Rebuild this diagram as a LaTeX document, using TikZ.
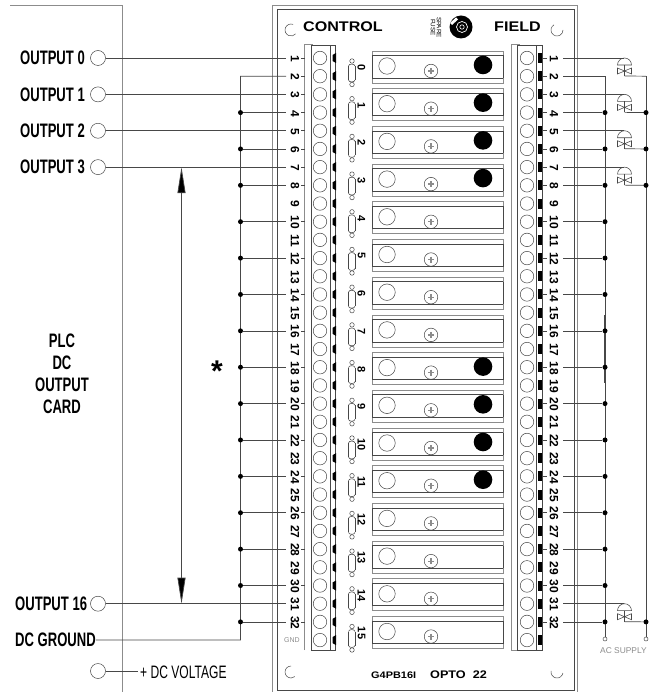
\documentclass[tikz,border=0pt]{standalone}
\usepackage{fontspec}
\usetikzlibrary{arrows.meta}
\setmainfont{Liberation Sans}
\newfontfamily\narrowf[FakeStretch=0.67]{Liberation Sans}
\newfontfamily\widef[FakeStretch=1.15]{Liberation Sans}
\definecolor{wirec}{gray}{0.28}
\definecolor{softc}{gray}{0.55}
\tikzset{
  wire/.style={draw=wirec,line width=.7pt},
  softline/.style={draw=softc,line width=.8pt},
  ring/.style={circle,draw=wirec,line width=.5pt,inner sep=0pt,minimum size=#1},
  busdot/.style={circle,fill=black,inner sep=0pt,minimum size=5pt},
  endring/.style={circle,draw=wirec,line width=.5pt,inner sep=0pt,minimum size=4pt},
  biglabel/.style={font=\narrowf\bfseries\fontsize{19.5}{19.5}\selectfont,anchor=west,inner sep=0pt},
  termnum/.style={font=\bfseries\fontsize{12}{12}\selectfont,rotate=-90,inner sep=0pt},
  relaynum/.style={font=\bfseries\fontsize{11}{11}\selectfont,rotate=-90,inner sep=0pt},
  widelabel/.style={font=\widef\bfseries\fontsize{14}{14}\selectfont,anchor=west,inner sep=0pt},
  lampsym/.pic={
    \coordinate (-top) at (-1,0);
    \coordinate (-bot) at (0,18);
    \draw[wire,line width=.55pt] (-7,7) arc[start angle=180,end angle=0,radius=7pt] -- cycle;
    \draw[wire,line width=.55pt] (0,7) -- (0,18);
    \draw[wire,line width=.55pt] (-7,10) -- (7,16) -- (7,10) -- (-7,16) -- cycle;
  }
}
\begin{document}
\begin{tikzpicture}[x=1pt,y=-1pt]
\useasboundingbox (0,0) rectangle (651,692);
% PLC card
\coordinate (cardA) at (10,5);
\coordinate (cardB) at (122,5);
\coordinate (cardC) at (122,692);
\draw[softline] (cardA) -- (cardB) -- (cardC);
% panel
\draw[softline] (272,692) -- (272,5) -- (577,5) -- (577,692);
\draw[wire] (277,690) -- (277,9) -- (574,9) -- (574,690) -- cycle;
% corner arcs
\draw[wire,line width=.5pt] (291,30) ++(70:6pt) arc[start angle=70,end angle=320,radius=6pt];
\draw[wire,line width=.5pt] (557,30) ++(120:6pt) arc[start angle=120,end angle=360,radius=6pt];
\draw[wire,line width=.5pt] (291,672) ++(90:6pt) arc[start angle=90,end angle=310,radius=6pt];
\draw[wire,line width=.5pt] (557,672) ++(170:6pt) arc[start angle=170,end angle=350,radius=6pt];
% titles
\node[widelabel] (ttlctl) at (303,27) {CONTROL};
\node[widelabel] (ttlfld) at (494,27) {FIELD};
\node[font=\fontsize{6.3}{6}\selectfont,rotate=-90,align=center,inner sep=0pt] (spare) at (436,27.5) {SPARE\\FUSE};
% fuse
\fill (461,27) circle (11.5pt);
\fill[white] (456,17.5) -- (450,23) -- (452,25) -- (458,19.5) -- cycle;
\draw[white,line width=.7pt] (462,27) circle (5.5pt);
\draw[white,line width=.6pt] (462,27) circle (2.2pt);
% terminal blocks
\draw[softline] (304,650) -- (304,44) -- (313,44);
\draw[wire] (311,45) rectangle (330,650);
\draw[wire] (330,45) -- (335,45) -- (335,650) -- (330,650);
\draw[softline] (511,650) -- (511,44) -- (520,44);
\draw[softline] (511,650) -- (517,650);
\draw[wire] (517,45) rectangle (536,650);
\draw[wire] (536,45) -- (542,45) -- (542,650) -- (536,650);
\foreach \n in {1,...,33}{
  \pgfmathsetmacro\ry{58+18.19*(\n-1)}
  \node[ring=13.5pt] (tl\n) at (320,\ry) {};
  \node[ring=13.5pt] (tr\n) at (527,\ry) {};
  \fill (332.5,\ry-3) -- (336,\ry-5) -- (336,\ry+5) -- (332.5,\ry+3) -- cycle;
  \fill (538,\ry-5) rectangle (542,\ry+5);
  \coordinate (L\n) at (286,\ry);
  \coordinate (R\n) at (563,\ry);
  \coordinate (Lt\n) at (301,\ry);
  \coordinate (Lu\n) at (305,\ry);
  \coordinate (Rt\n) at (543,\ry);
  \coordinate (Ru\n) at (547,\ry);
}
\foreach \n in {1,...,32}{
  \pgfmathsetmacro\ry{58+18.19*(\n-1)+0.8}
  \node[termnum] (nl\n) at (295,\ry) {\n};
  \node[termnum] (nr\n) at (554,\ry) {\n};
}
\foreach \n in {1,...,8,10,12,...,32}{
  \draw[wire] (Lt\n) -- (Lu\n);
  \draw[wire] (Rt\n) -- (Ru\n);
}
\node[font=\fontsize{7}{7}\selectfont,text=softc,inner sep=0pt] (gndt) at (292,640) {GND};
% relays
\foreach \i in {0,...,15}{
  \pgfmathsetmacro\yy{51+37.7*\i}
  \draw[softline] (372,\yy) rectangle (503,\yy+32);
  \draw[wire] (372,\yy+4.5) -- (503,\yy+4.5);
  \draw[wire] (372,\yy+27) -- (503,\yy+27);
  \draw[wire] (372,\yy+4.5) -- (372,\yy+27);
  \draw[wire] (503,\yy+4.5) -- (503,\yy+27);
  \node[ring=16.5pt] (rc\i) at (387,\yy+15) {};
  \node[ring=13.5pt] (rs\i) at (431,\yy+20) {};
  \draw[softc,line width=1.2pt] (428,\yy+20) -- (434,\yy+20) (431,\yy+17) -- (431,\yy+23);
  \node[relaynum] (rn\i) at (361.5,\yy+16.5) {\i};
  \draw[wire,line width=.55pt] (348.5,\yy+15) -- (348.5,\yy+29) (355,\yy+15) -- (355,\yy+29);
  \draw[wire,line width=.55pt] (348.5,\yy+15) to[out=90,in=90,looseness=1] (355,\yy+15);
  \draw[wire,line width=.55pt] (348.5,\yy+29) to[out=-90,in=-90,looseness=1] (355,\yy+29);
  \node[ring=4.5pt] (fa\i) at (352,\yy+10) {};
  \node[ring=4.5pt] (fb\i) at (352,\yy+33.5) {};
}
\foreach \i in {0,1,2,3,8,9,10,11}{
  \pgfmathsetmacro\yy{51+37.7*\i}
  \fill (483,\yy+14) circle (9.3pt);
}
% output labels and wires
\node[biglabel] (lb0) at (20,58) {OUTPUT 0};
\node[biglabel] (lb1) at (20,94.5) {OUTPUT 1};
\node[biglabel] (lb2) at (20,131) {OUTPUT 2};
\node[biglabel] (lb3) at (20,167) {OUTPUT 3};
\node[biglabel] (lb16) at (15,604) {OUTPUT 16};
\node[biglabel] (lbg) at (15,640) {DC GROUND};
\node[font=\narrowf\fontsize{18}{18}\selectfont,anchor=west,inner sep=0pt] (lbv) at (140,672) {+ DC VOLTAGE};
\foreach \o/\r in {0/1,1/3,2/5,3/7,16/31}{
  \node[ring=15pt] (oc\o) at (98,0 |- L\r) {};
  \draw[wire] (oc\o) -- (L\r);
}
\node[ring=15pt] (ocv) at (98,671) {};
\coordinate (lbvw) at (138,671);
\draw[wire] (ocv) -- (lbvw);
% left bus
\coordinate (busLt) at (240.5,0 |- L2);
\coordinate (busLb) at (240.5,0 |- L33);
\draw[wire] (L2) -- (busLt) -- (busLb) -- (lbg.east);
\foreach \n in {4,6,...,32}{
  \node[busdot] (dl\n) at (240.5,0 |- L\n) {};
  \draw[wire] (dl\n) -- (L\n);
}
% range arrow
\coordinate (arT) at (181.5,0 |- L7);
\coordinate (arB) at (181.5,0 |- L31);
\draw[wire,{Triangle[width=8pt,length=26pt,fill=black]}-{Triangle[width=8pt,length=26pt,fill=black]}] (arT) -- (arB);
\node[font=\bfseries\fontsize{30}{30}\selectfont,inner sep=0pt] (star) at (217,371) {*};
% PLC
\node[font=\narrowf\bfseries\fontsize{19.5}{22}\selectfont,align=center,inner sep=0pt] (plc) at (62,374) {PLC\\DC\\OUTPUT\\CARD};
% right buses
\node[endring] (ac1) at (605,639) {};
\node[endring] (ac2) at (646,639) {};
\coordinate (bus1t) at (605,0 |- R2);
\coordinate (bus2t) at (646,0 |- R2);
\draw[wire] (R2) -- (bus1t) -- (ac1);
\draw[wire] (bus2t) -- (ac2);
\draw[wire,line width=1.2pt] (605,315) -- (605,383);
\foreach \n in {4,6,...,32}{
  \node[busdot] (dr\n) at (605,0 |- R\n) {};
  \draw[wire] (R\n) -- (dr\n);
}
% lamps
\foreach \k/\a/\b in {1/1/2,2/3/4,3/5/6,4/7/8,5/31/32}{
  \pic (lamp\k) at (624.5,0 |- R\a) {lampsym};
  \coordinate (lbr\k) at (646,0 |- R\b);
  \draw[wire] (R\a) -- (lamp\k-top);
  \draw[wire] (lamp\k-bot) -- (lbr\k);
}
\foreach \n in {4,6,8,32}{
  \node[busdot] (db\n) at (646,0 |- R\n) {};
}
\node[font=\fontsize{8.4}{8.4}\selectfont,text=softc,anchor=west,inner sep=0pt] (acs) at (600,651) {AC SUPPLY};
% footer
\node[font=\widef\bfseries\fontsize{9.5}{9.5}\selectfont,anchor=west,inner sep=0pt] (model) at (371,675) {G4PB16I};
\node[font=\widef\bfseries\fontsize{11}{11}\selectfont,anchor=west,inner sep=0pt] (brand) at (430,675) {OPTO\ \ 22};
\end{tikzpicture}
\end{document}
